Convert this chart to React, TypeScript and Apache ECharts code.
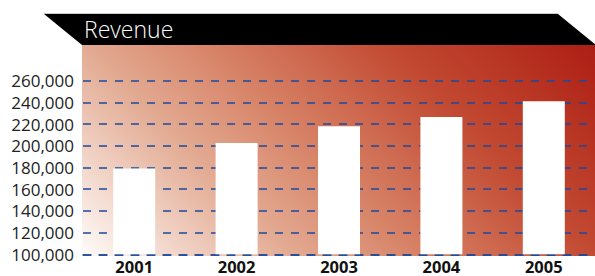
import React, { useEffect, useRef } from "react";
import * as echarts from "echarts";

const categories = ["2001", "2002", "2003", "2004", "2005"];
const revenue = [179000, 202500, 218000, 226500, 241000];
const title = "Revenue";

export default function App() {
  const ref = useRef<HTMLDivElement>(null);
  useEffect(() => {
    document.body.style.margin = "0";
    const chart = echarts.init(ref.current!, null, { renderer: "svg" });
    const dash = { type: [8, 8] as any, color: "#1d4a9c", width: 1.5 };
    chart.setOption({
      animation: false,
      graphic: [
        {
          type: "rect",
          z: -10,
          silent: true,
          shape: { x: 82, y: 45, width: 514, height: 211 },
          style: {
            fill: new echarts.graphic.LinearGradient(
              82,
              256,
              444.5,
              -106.5,
              [
                { offset: 0, color: "#fffbf9" },
                { offset: 0.29, color: "#e3ab93" },
                { offset: 0.45, color: "#d8866a" },
                { offset: 0.71, color: "#c24a32" },
                { offset: 0.96, color: "#b02418" },
                { offset: 1, color: "#aa1e14" },
              ],
              true
            ),
          },
        },
        {
          type: "line",
          z: -5,
          silent: true,
          shape: { x1: 44, y1: 13.5, x2: 558, y2: 13.5 },
          style: { stroke: "#cccccc", lineWidth: 1 },
        },
        {
          type: "polygon",
          z: -5,
          silent: true,
          shape: { points: [[44, 14], [558, 14], [596, 45], [82, 45]] },
          style: { fill: "#000000" },
        },
        {
          type: "text",
          z: 10,
          silent: true,
          x: 84,
          y: 29,
          style: {
            text: title,
            fill: "#ffffff",
            font: "300 23px 'Open Sans'",
            verticalAlign: "middle",
            align: "left",
          },
        },
      ],
      grid: { left: 83, right: -1, top: 80.7, bottom: 21.7 },
      xAxis: {
        type: "category",
        data: categories,
        axisLine: { show: true, lineStyle: dash },
        axisTick: { show: false },
        axisLabel: {
          color: "#111",
          fontFamily: "Open Sans",
          fontWeight: "bold",
          fontSize: 16.5,
          lineHeight: 14,
          margin: 5,
        },
      },
      yAxis: {
        type: "value",
        min: 100000,
        max: 260000,
        interval: 20000,
        axisLine: { show: false },
        axisTick: { show: false },
        splitLine: { show: true, lineStyle: dash },
        axisLabel: {
          color: "#222",
          fontFamily: "Open Sans",
          fontSize: 17,
          margin: 9,
          formatter: (v: number) => v.toLocaleString("en-US"),
        },
      },
      series: [
        {
          type: "bar",
          data: revenue,
          barWidth: 42,
          itemStyle: { color: "#ffffff" },
        },
      ],
    });
    return () => chart.dispose();
  }, []);
  return <div ref={ref} style={{ width: 595, height: 276 }} />;
}
